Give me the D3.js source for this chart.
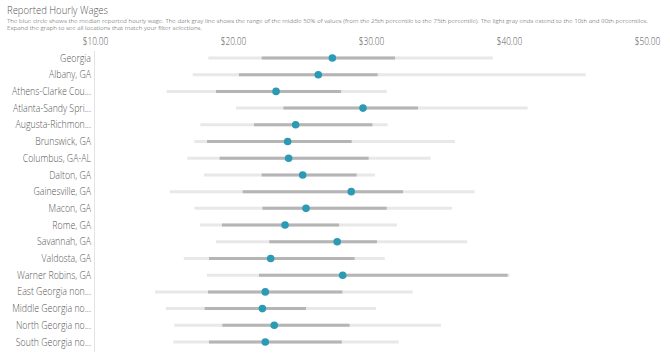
<!DOCTYPE html>
<html><head><meta charset="utf-8">
<script src="https://cdn.jsdelivr.net/npm/d3@7"></script>
<style>body{margin:0;background:#fff;}svg{display:block;font-family:"Open Sans",sans-serif;font-weight:300;}</style>
</head><body><svg id="c" width="670" height="357"></svg>
<script>
const locations = ["Georgia","Albany, GA","Athens-Clarke Cou...","Atlanta-Sandy Spri...","Augusta-Richmon...","Brunswick, GA","Columbus, GA-AL","Dalton, GA","Gainesville, GA","Macon, GA","Rome, GA","Savannah, GA","Valdosta, GA","Warner Robins, GA","East Georgia non...","Middle Georgia no...","North Georgia no...","South Georgia no..."];
const p10 = [18.21,17.08,15.19,20.22,17.63,17.20,16.69,17.90,15.43,17.20,17.61,18.77,16.43,18.12,14.35,15.14,15.75,15.68];
const p25 = [22.08,20.43,18.77,23.65,21.52,18.12,19.03,22.08,20.70,22.13,19.20,22.63,18.26,21.88,18.19,17.95,19.23,18.26];
const median = [27.20,26.18,23.12,29.42,24.54,23.96,24.03,25.05,28.57,25.29,23.77,27.55,22.73,27.95,22.34,22.13,22.99,22.34];
const p75 = [31.74,30.48,27.83,33.41,30.10,28.60,29.83,28.96,32.32,31.14,27.68,30.43,28.81,39.90,27.92,25.29,28.45,27.88];
const p90 = [38.82,45.56,31.14,41.35,31.21,36.09,34.32,30.29,37.51,35.89,31.88,36.98,31.00,40.05,33.02,30.36,35.07,32.01];
const tickValues = [10,20,30,40,50];

const svg = d3.select("#c");
const x = d3.scaleLinear().domain([10,50]).range([95,647]);
const y = d3.scalePoint().domain(locations).range([58,342]);
const sx = 0.86;

svg.append("text").attr("x",7).attr("y",14).attr("font-size",10).attr("fill","#555")
  .attr("textLength",101).attr("lengthAdjust","spacingAndGlyphs").text("Reported Hourly Wages");
svg.append("text").attr("x",7).attr("y",22.5).attr("font-size",6.1).attr("fill","#555")
  .attr("textLength",641).attr("lengthAdjust","spacingAndGlyphs")
  .text("The blue circle shows the median reported hourly wage. The dark gray line shows the range of the middle 50% of values (from the 25th percentile to the 75th percentile). The light gray ends extend to the 10th and 90th percentiles.");
svg.append("text").attr("x",7).attr("y",30).attr("font-size",6.1).attr("fill","#555")
  .attr("textLength",195).attr("lengthAdjust","spacingAndGlyphs")
  .text("Expand the graph to see all locations that match your filter selections.");

const axis = d3.axisTop(x).tickValues(tickValues).tickFormat(d=>"$"+d3.format(".2f")(d)).tickSize(0).tickPadding(0);
const ag = svg.append("g").attr("transform","translate(0,44.5)").call(axis);
ag.select(".domain").remove();
ag.selectAll(".tick text").attr("font-size",10).attr("fill","#555").attr("font-family","Open Sans")
  .attr("transform",`scale(0.83,1)`);

svg.append("line").attr("x1",94.5).attr("x2",94.5).attr("y1",51).attr("y2",352).attr("stroke","#e3e3e3").attr("stroke-width",1);

const rows = svg.append("g").selectAll("g").data(locations).join("g");
rows.append("text").attr("transform",d=>`translate(91,${y(d)}) scale(${sx},1)`).attr("dy","0.35em").attr("text-anchor","end")
  .attr("font-size",10.2).attr("fill","#555").text(d=>d);
rows.append("line").attr("x1",(d,i)=>x(p10[i])).attr("x2",(d,i)=>x(p90[i]))
  .attr("y1",d=>y(d)).attr("y2",d=>y(d)).attr("stroke","#e8e8e8").attr("stroke-width",3);
rows.append("line").attr("x1",(d,i)=>x(p25[i])).attr("x2",(d,i)=>x(p75[i]))
  .attr("y1",d=>y(d)).attr("y2",d=>y(d)).attr("stroke","#b5b5b5").attr("stroke-width",3);
rows.append("circle").attr("cx",(d,i)=>x(median[i])).attr("cy",d=>y(d)).attr("r",3.8).attr("fill","#2a9ab5");
</script></body></html>
